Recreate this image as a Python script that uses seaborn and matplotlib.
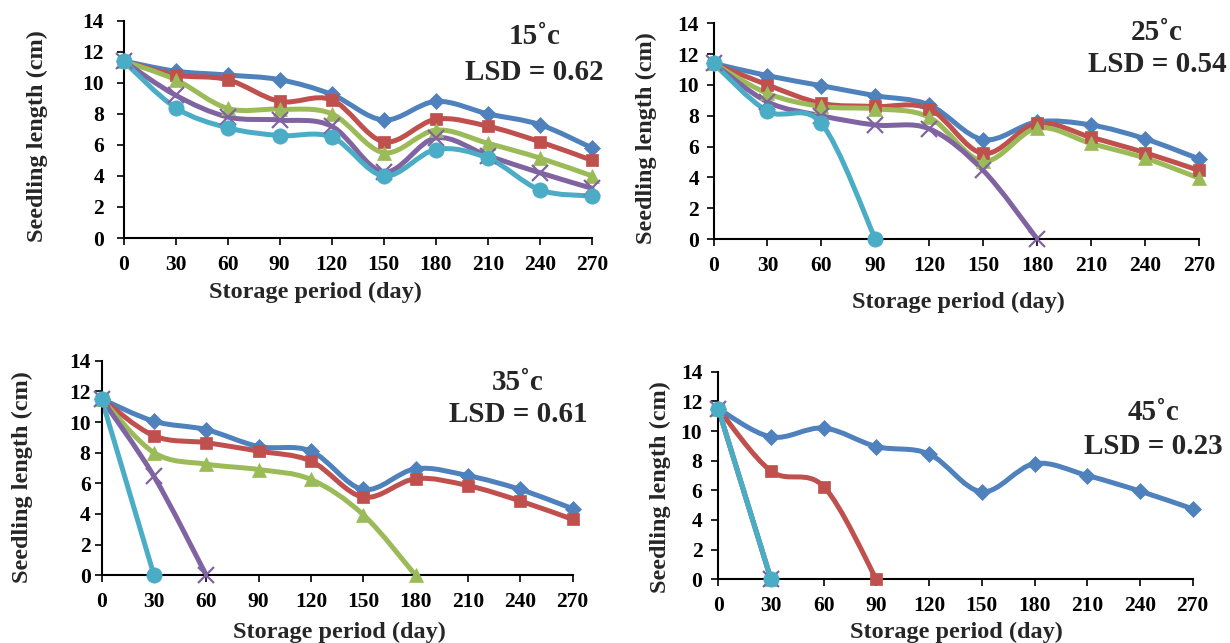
import numpy as np
import pandas as pd
import matplotlib
matplotlib.use("Agg")
import matplotlib.pyplot as plt
import seaborn as sns
from matplotlib.path import Path
from matplotlib.patches import PathPatch

# ==============================================================================
# Data (seedling length, cm)
# ==============================================================================
DAYS = [0, 30, 60, 90, 120, 150, 180, 210, 240, 270]

T15_BLUE = [11.4, 10.75, 10.5, 10.2, 9.25, 7.6, 8.8, 8.0, 7.3, 5.8]
T15_RED = [11.4, 10.5, 10.2, 8.8, 8.9, 6.2, 7.65, 7.2, 6.2, 5.0]
T15_GREEN = [11.4, 10.2, 8.35, 8.3, 8.0, 5.5, 6.95, 6.1, 5.15, 4.0]
T15_PURPLE = [11.4, 9.2, 7.8, 7.6, 7.2, 4.25, 6.45, 5.3, 4.2, 3.2]
T15_CYAN = [11.4, 8.4, 7.1, 6.6, 6.5, 4.0, 5.7, 5.15, 3.1, 2.7]

T25_BLUE = [11.4, 10.6, 9.95, 9.3, 8.7, 6.45, 7.6, 7.4, 6.5, 5.2]
T25_RED = [11.4, 10.0, 8.8, 8.6, 8.45, 5.55, 7.5, 6.6, 5.6, 4.45]
T25_GREEN = [11.4, 9.45, 8.6, 8.45, 7.9, 5.05, 7.2, 6.2, 5.25, 3.95]
T25_PURPLE = [11.4, 8.9, 8.0, 7.4, 7.15, 4.45, 0.0]
T25_CYAN = [11.4, 8.3, 7.5, 0.0]

T35_BLUE = [11.5, 10.05, 9.5, 8.4, 8.1, 5.6, 6.95, 6.5, 5.6, 4.35]
T35_RED = [11.5, 9.1, 8.65, 8.1, 7.45, 5.1, 6.3, 5.85, 4.85, 3.65]
T35_GREEN = [11.5, 8.0, 7.25, 6.9, 6.25, 3.95, 0.0]
T35_PURPLE = [11.5, 6.45, 0.0]
T35_CYAN = [11.5, 0.0]

T45_BLUE = [11.5, 9.6, 10.2, 8.95, 8.45, 5.9, 7.8, 7.0, 5.95, 4.75]
T45_RED = [11.5, 7.3, 6.25, 0.0]
T45_GREEN = [11.5, 0.0]
T45_PURPLE = [11.5, 0.0]
T45_CYAN = [11.5, 0.0]

TITLES = ["15˚c", "25˚c", "35˚c", "45˚c"]
LSD = ["LSD = 0.62", "LSD = 0.54", "LSD = 0.61", "LSD = 0.23"]

# series styles (Excel 2007 palette)
COLORS = ["#4F81BD", "#C0504D", "#9BBB59", "#8064A2", "#4BACC6"]
MARKERS = ["D", "s", "^", "x", "o"]
MSIZES = [8, 9, 10, 11, 11]

# ==============================================================================
# Layout (pixels in a 1230 x 643 canvas)
# ==============================================================================
W, H = 1230, 643
# left, right, top, bottom of each plot area
BOXES = [(123.5, 592, 20.7, 238), (713.5, 1199, 23.3, 239),
         (101.7, 572.5, 360.7, 575.3), (718.3, 1192.6, 371.7, 579.3)]
TEXT_POS = [((535, 37), (534, 73)), ((1157, 32), (1157, 65)),
            ((518, 382), (518, 415)), ((1154, 412), (1153, 447))]
XLABEL_POS = [(315, 292), (958, 302), (339, 632), (956, 632)]
YLABEL_POS = [(37, 136), (646, 138), (22, 477), (660, 487)]
YPAD = [9, 5.5, 3, 6.5]


def smooth_path(xs, ys):
    # Catmull-Rom style bezier, like Excel's "smoothed line"
    pts = np.column_stack([xs, ys]).astype(float)
    n = len(pts)
    verts = [pts[0]]
    codes = [Path.MOVETO]
    for i in range(n - 1):
        p0 = pts[i - 1] if i > 0 else pts[i]
        p1, p2 = pts[i], pts[i + 1]
        p3 = pts[i + 2] if i + 2 < n else pts[i + 1]
        c1 = p1 + (p2 - p0) / 6.0
        c2 = p2 - (p3 - p1) / 6.0
        verts += [c1, c2, p2]
        codes += [Path.CURVE4] * 3
    return Path(verts, codes)


def fx(px):
    return px / W


def fy(py):
    return 1 - py / H


def main():
    sns.set_style("ticks")
    plt.rcParams["font.family"] = ["Liberation Serif", "DejaVu Serif"]
    plt.rcParams["font.weight"] = "bold"
    plt.rcParams["axes.labelweight"] = "bold"

    panels = [
        [T15_BLUE, T15_RED, T15_GREEN, T15_PURPLE, T15_CYAN],
        [T25_BLUE, T25_RED, T25_GREEN, T25_PURPLE, T25_CYAN],
        [T35_BLUE, T35_RED, T35_GREEN, T35_PURPLE, T35_CYAN],
        [T45_BLUE, T45_RED, T45_GREEN, T45_PURPLE, T45_CYAN],
    ]

    fig = plt.figure(figsize=(W / 100, H / 100), dpi=100)

    for k, series in enumerate(panels):
        left, right, top, bottom = BOXES[k]
        ax = fig.add_axes([fx(left), fy(bottom), (right - left) / W, (bottom - top) / H])

        for vals, c, m, ms in zip(series, COLORS, MARKERS, MSIZES):
            x = DAYS[:len(vals)]
            ax.add_patch(PathPatch(smooth_path(x, vals), facecolor="none", edgecolor=c,
                                   lw=3.6, joinstyle="round", capstyle="round",
                                   clip_on=False, zorder=2))
            df = pd.DataFrame({"day": x, "len": vals})
            sns.lineplot(data=df, x="day", y="len", ax=ax, color=c, marker=m,
                         markersize=ms, markeredgecolor=c,
                         markeredgewidth=1.6 if m == "x" else 0.5,
                         linestyle="", zorder=3)

        for ln in ax.lines:
            ln.set_clip_on(False)

        ax.set_xlim(0, 270)
        ax.set_ylim(0, 14)
        ax.set_xticks(DAYS)
        ax.set_yticks(range(0, 15, 2))
        sns.despine(ax=ax)
        for side in ["left", "bottom"]:
            ax.spines[side].set_linewidth(1.5)
            ax.spines[side].set_color("black")
        ax.tick_params(axis="both", direction="out", length=5, width=1.2,
                       labelsize=15.5, colors="black")
        ax.tick_params(axis="x", pad=7)
        ax.tick_params(axis="y", pad=YPAD[k])

        ax.set_xlabel("Storage period (day)", fontsize=17.5, fontweight="bold", va="center")
        ax.set_ylabel("Seedling length (cm)", fontsize=17.5, fontweight="bold", va="center")
        ax.xaxis.set_label_coords(fx(XLABEL_POS[k][0]), fy(XLABEL_POS[k][1]), transform=fig.transFigure)
        ax.yaxis.set_label_coords(fx(YLABEL_POS[k][0]), fy(YLABEL_POS[k][1]), transform=fig.transFigure)

        (tx, ty), (lx, ly) = TEXT_POS[k]
        fig.text(fx(tx), fy(ty), TITLES[k], ha="center", va="center", fontsize=21, fontweight="bold")
        fig.text(fx(lx), fy(ly), LSD[k], ha="center", va="center", fontsize=21, fontweight="bold")

    fig.savefig("out.png", dpi=100, facecolor="white")
    plt.close(fig)


if __name__ == "__main__":
    main()
